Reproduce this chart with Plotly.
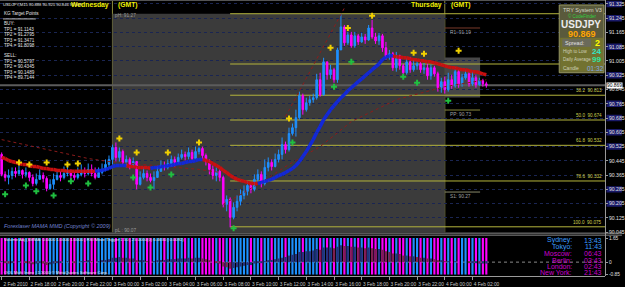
import plotly.graph_objects as go

# ---------------- data ----------------
first_open = 90.481
closes = [
    90.369, 90.352, 90.363, 90.386, 90.374, 90.391, 90.369, 90.380, 90.352, 90.318,
    90.341, 90.363, 90.346, 90.290, 90.313, 90.341, 90.363, 90.352, 90.374, 90.386,
    90.363, 90.352, 90.369, 90.386, 90.374, 90.397, 90.374, 90.352, 90.380, 90.397,
    90.425, 90.453, 90.520, 90.464, 90.497, 90.436, 90.453, 90.425, 90.441, 90.313,
    90.352, 90.374, 90.352, 90.335, 90.352, 90.386, 90.419, 90.408, 90.430, 90.453,
    90.436, 90.464, 90.481, 90.469, 90.492, 90.458, 90.497, 90.514, 90.475, 90.441,
    90.397, 90.363, 90.386, 90.352, 90.201, 90.229, 90.128, 90.184, 90.218, 90.251,
    90.274, 90.307, 90.285, 90.341, 90.369, 90.318, 90.408, 90.436, 90.413, 90.453,
    90.481, 90.536, 90.508, 90.598, 90.631, 90.687, 90.810, 90.732, 90.771, 90.788,
    90.799, 90.900, 90.816, 91.000, 90.928, 90.956, 90.900, 91.067, 91.196, 91.107,
    91.151, 91.090, 91.146, 91.112, 91.140, 91.123, 91.190, 91.140, 91.118, 91.146,
    91.079, 91.028, 91.045, 90.967, 91.034, 90.978, 90.939, 91.000, 90.956, 90.978,
    90.989, 90.956, 90.967, 90.922, 90.967, 90.933, 90.855, 90.889, 90.844, 90.900,
    90.866, 90.945, 90.877, 90.911, 90.933, 90.877, 90.911, 90.872, 90.894, 90.877,
    90.869]
highs = [
    90.492, 90.386, 90.397, 90.408, 90.408, 90.419, 90.397, 90.408, 90.386, 90.369,
    90.374, 90.397, 90.380, 90.358, 90.341, 90.374, 90.397, 90.386, 90.413, 90.419,
    90.397, 90.386, 90.408, 90.425, 90.408, 90.430, 90.425, 90.408, 90.408, 90.430,
    90.453, 90.475, 90.536, 90.548, 90.520, 90.508, 90.475, 90.464, 90.464, 90.436,
    90.386, 90.408, 90.391, 90.374, 90.386, 90.419, 90.447, 90.441, 90.453, 90.475,
    90.469, 90.486, 90.508, 90.497, 90.520, 90.508, 90.525, 90.525, 90.525, 90.486,
    90.453, 90.419, 90.408, 90.397, 90.363, 90.251, 90.240, 90.212, 90.251, 90.285,
    90.307, 90.330, 90.324, 90.369, 90.397, 90.386, 90.453, 90.464, 90.453, 90.486,
    90.508, 90.576, 90.553, 90.631, 90.654, 90.732, 90.833, 90.822, 90.799, 90.810,
    90.822, 90.933, 90.939, 91.023, 91.000, 90.984, 90.967, 91.079, 91.269, 91.207,
    91.168, 91.168, 91.168, 91.157, 91.163, 91.157, 91.207, 91.235, 91.163, 91.163,
    91.157, 91.112, 91.067, 91.056, 91.056, 91.040, 90.989, 91.023, 91.028, 91.012,
    91.012, 91.000, 90.995, 90.989, 90.984, 90.978, 90.945, 90.911, 90.917, 90.939,
    90.928, 90.972, 90.956, 90.933, 90.956, 90.956, 90.945, 90.928, 90.911, 90.905,
    90.889]
lows = [
    90.358, 90.330, 90.313, 90.341, 90.352, 90.363, 90.346, 90.352, 90.330, 90.302,
    90.307, 90.341, 90.324, 90.274, 90.285, 90.285, 90.335, 90.330, 90.341, 90.358,
    90.341, 90.335, 90.341, 90.358, 90.352, 90.363, 90.358, 90.341, 90.352, 90.369,
    90.386, 90.408, 90.425, 90.441, 90.441, 90.419, 90.408, 90.397, 90.408, 90.285,
    90.307, 90.341, 90.330, 90.324, 90.285, 90.352, 90.386, 90.391, 90.397, 90.413,
    90.413, 90.425, 90.453, 90.447, 90.453, 90.441, 90.453, 90.481, 90.453, 90.419,
    90.369, 90.341, 90.330, 90.330, 90.184, 90.162, 90.072, 90.117, 90.162, 90.195,
    90.229, 90.251, 90.263, 90.274, 90.330, 90.296, 90.307, 90.386, 90.391, 90.408,
    90.436, 90.453, 90.486, 90.497, 90.587, 90.581, 90.676, 90.704, 90.721, 90.754,
    90.771, 90.788, 90.805, 90.810, 90.900, 90.905, 90.883, 90.883, 91.067, 91.090,
    91.095, 91.079, 91.079, 91.095, 91.107, 91.101, 91.118, 91.129, 91.101, 91.095,
    91.056, 91.012, 91.012, 90.950, 90.945, 90.956, 90.922, 90.928, 90.939, 90.945,
    90.956, 90.939, 90.933, 90.900, 90.900, 90.917, 90.833, 90.827, 90.822, 90.833,
    90.849, 90.855, 90.855, 90.861, 90.900, 90.861, 90.866, 90.855, 90.866, 90.861,
    90.855]
ribbon = [
    90.464, 90.458, 90.447, 90.441, 90.436, 90.430, 90.425, 90.425, 90.419, 90.413,
    90.413, 90.408, 90.402, 90.402, 90.397, 90.397, 90.391, 90.391, 90.391, 90.386,
    90.386, 90.386, 90.386, 90.386, 90.386, 90.386, 90.386, 90.386, 90.391, 90.391,
    90.397, 90.402, 90.413, 90.419, 90.419, 90.419, 90.419, 90.413, 90.413, 90.408,
    90.408, 90.408, 90.408, 90.402, 90.408, 90.408, 90.413, 90.413, 90.419, 90.419,
    90.425, 90.430, 90.430, 90.436, 90.441, 90.441, 90.447, 90.453, 90.453, 90.447,
    90.441, 90.430, 90.419, 90.408, 90.391, 90.380, 90.363, 90.352, 90.341, 90.335,
    90.330, 90.324, 90.318, 90.318, 90.318, 90.324, 90.330, 90.335, 90.341, 90.352,
    90.363, 90.369, 90.380, 90.391, 90.402, 90.419, 90.441, 90.469, 90.497, 90.531,
    90.564, 90.604, 90.637, 90.676, 90.704, 90.732, 90.754, 90.777, 90.799, 90.816,
    90.838, 90.855, 90.872, 90.889, 90.905, 90.922, 90.939, 90.956, 90.972, 90.989,
    91.012, 91.028, 91.034, 91.034, 91.028, 91.028, 91.023, 91.023, 91.017, 91.012,
    91.012, 91.006, 91.006, 91.000, 91.000, 90.995, 90.989, 90.984, 90.978, 90.972,
    90.967, 90.967, 90.961, 90.956, 90.956, 90.950, 90.945, 90.945, 90.939, 90.933,
    90.928]
osc = [
    0.05, -0.05, -0.1, -0.05, 0.0, 0.05, 0.0, -0.05, -0.1, -0.15,
    -0.1, -0.05, -0.1, -0.2, -0.15, -0.1, -0.05, -0.05, 0.0, 0.05,
    0.0, -0.05, 0.0, 0.05, 0.05, 0.1, 0.05, 0.0, 0.05, 0.1,
    0.15, 0.2, 0.3, 0.3, 0.35, 0.3, 0.3, 0.25, 0.25, 0.1,
    0.1, 0.1, 0.05, 0.0, 0.05, 0.1, 0.15, 0.15, 0.2, 0.2,
    0.2, 0.25, 0.25, 0.25, 0.3, 0.25, 0.3, 0.3, 0.25, 0.2,
    0.1, 0.0, -0.05, -0.1, -0.3, -0.35, -0.45, -0.4, -0.35, -0.3,
    -0.25, -0.2, -0.2, -0.1, -0.05, -0.05, 0.05, 0.1, 0.15, 0.2,
    0.25, 0.3, 0.35, 0.45, 0.5, 0.55, 0.7, 0.7, 0.75, 0.75,
    0.8, 0.9, 0.85, 1.0, 1.0, 1.0, 0.95, 1.05, 1.15, 1.1,
    1.1, 1.05, 1.05, 1.0, 1.0, 0.95, 1.0, 0.95, 0.9, 0.9,
    0.85, 0.75, 0.7, 0.6, 0.6, 0.55, 0.45, 0.45, 0.4, 0.4,
    0.35, 0.3, 0.3, 0.25, 0.25, 0.2, 0.1, 0.1, 0.05, 0.05,
    0.0, 0.05, 0.0, 0.0, 0.0, -0.05, -0.05, -0.05, -0.1, -0.1,
    -0.1]
ind_top, ind_bot = 1.65, -0.85

ma_left_idx = [0, 8, 17, 25, 31, 40, 48, 57, 63]
ma_left_val = [90.564, 90.531, 90.492, 90.458, 90.441, 90.425, 90.413, 90.397, 90.380]
ma_right_idx = [64, 74, 83, 92, 101, 114, 128, 140]
ma_right_val = [90.201, 90.313, 90.425, 90.525, 90.665, 90.788, 90.861, 90.900]
steep_idx = [82, 99]
steep_val = [90.693, 91.302]

sell_idx = [5, 8, 13, 19, 22, 34, 39, 48, 57, 83, 95, 100, 107, 119, 122, 132]
sell_val = [90.436, 90.425, 90.436, 90.425, 90.430, 90.570, 90.492, 90.492, 90.548,
            90.682, 91.079, 91.190, 91.258, 91.051, 91.045, 91.062]
buy_idx = [1, 7, 10, 15, 20, 25, 38, 43, 49, 67, 84, 96, 101, 116, 120, 129]
buy_val = [90.257, 90.307, 90.274, 90.251, 90.330, 90.318, 90.352, 90.296, 90.369,
           90.067, 90.548, 90.861, 91.000, 90.916, 90.883, 90.782]

fib_pct = [0.0, 23.6, 38.2, 50.0, 61.8, 78.6, 100.0]
fib_price = [91.270, 90.988, 90.813, 90.674, 90.532, 90.332, 90.075]
fib_start = 66
pivot_names = ["R1", "PP", "S1"]
pivot_vals = [91.19, 90.73, 90.27]
prev_high, prev_low = 91.27, 90.07
day_start = [32, 128]
day_names = ["Wednesday", "Thursday"]
today_box = (128, 138.2, 90.800, 91.025)
cur_price = 90.869

price_ticks = [91.325, 91.245, 91.165, 91.085, 91.005, 90.925, 90.845, 90.765, 90.685,
               90.605, 90.525, 90.445, 90.365, 90.285, 90.205, 90.125, 90.045]
navy_ticks = [91.325, 91.245, 91.085, 90.925, 90.765, 90.685, 90.605, 90.525, 90.285, 90.205]
time_idx = [0, 8, 16, 24, 32, 40, 48, 56, 64, 72, 80, 88, 96, 104, 112, 120, 128, 136]
time_lbl = ["2 Feb 2010", "2 Feb 18:00", "2 Feb 20:00", "2 Feb 22:00", "3 Feb 00:00",
            "3 Feb 02:00", "3 Feb 04:00", "3 Feb 06:00", "3 Feb 08:00", "3 Feb 10:00",
            "3 Feb 12:00", "3 Feb 14:00", "3 Feb 16:00", "3 Feb 18:00", "3 Feb 20:00",
            "3 Feb 22:00", "4 Feb 00:00", "4 Feb 02:00"]

kg_lines = ["KG Target Points", "BUY:", "TP1 = 91.1143", "TP2 = 91.2795", "TP3 = 91.3471",
            "TP4 = 91.8098", "SELL:", "TP1 = 90.5797", "TP2 = 90.4345", "TP3 = 90.1489",
            "TP4 = 89.7144"]
cities = ["Sydney:", "Tokyo:", "Moscow:", "Berlin:", "London:", "New York:"]
city_times = ["13:43", "11:43", "06:43", "03:43", "02:43", "21:43"]

# ---------------- geometry helpers ----------------
W, H = 625, 287
MR, MB = 17, 10
PW, PH = W - MR, H - MB
BAR_PX, X0_PX = 3.479, 1.67
x_lo = -X0_PX / BAR_PX
x_hi = (PW - X0_PX) / BAR_PX


def X(p):
    return p / PW


def Y(p):
    return 1 - p / PH


BLUE, MAG = "#1e90ff", "#ff00ff"
FONT = "Liberation Sans"

n = len(closes)
idx = list(range(n))
opens = [first_open] + closes[:-1]
hi = [max(h, o, c) for h, o, c in zip(highs, opens, closes)]
lo = [min(l, o, c) for l, o, c in zip(lows, opens, closes)]

fig = go.Figure()

# dotted averages
for xs, ys in [(ma_left_idx, ma_left_val), (ma_right_idx, ma_right_val), (steep_idx, steep_val)]:
    fig.add_trace(go.Scatter(x=xs, y=ys, mode="lines", line=dict(color="#8b1c1c", width=1, dash="dot"),
                             hoverinfo="skip", xaxis="x", yaxis="y"))

fig.add_trace(go.Candlestick(
    x=idx, open=opens, high=hi, low=lo, close=closes,
    increasing=dict(line=dict(color=BLUE, width=1), fillcolor=BLUE),
    decreasing=dict(line=dict(color=MAG, width=1), fillcolor=MAG),
    whiskerwidth=0, hoverinfo="skip", xaxis="x", yaxis="y"))

# thick trend ribbon
trend = []
cur = -1
for i in range(n):
    if i > 0:
        if ribbon[i] > ribbon[i - 1]:
            cur = 1
        elif ribbon[i] < ribbon[i - 1]:
            cur = -1
    trend.append(cur)
for col, sgn in [("#c81010", -1), ("#1228d8", 1)]:
    xs, ys = [], []
    for i in range(1, n):
        if trend[i] == sgn:
            xs += [i - 1, i, None]
            ys += [ribbon[i - 1], ribbon[i], None]
    fig.add_trace(go.Scatter(x=xs, y=ys, mode="lines", line=dict(color=col, width=3.5),
                             hoverinfo="skip", xaxis="x", yaxis="y"))

fig.add_trace(go.Scatter(x=sell_idx, y=sell_val, mode="markers",
                         marker=dict(symbol="cross", size=5, color="#f0d000", line_width=0),
                         hoverinfo="skip", xaxis="x", yaxis="y"))
fig.add_trace(go.Scatter(x=buy_idx, y=buy_val, mode="markers",
                         marker=dict(symbol="cross", size=5, color="#20c040", line_width=0),
                         hoverinfo="skip", xaxis="x", yaxis="y"))

# indicator window
bar_cols = [BLUE if c >= o else MAG for o, c in zip(opens, closes)]
fig.add_trace(go.Bar(x=idx, y=[ind_top - ind_bot] * n, base=ind_bot, width=0.62,
                     marker=dict(color=bar_cols, line_width=0), hoverinfo="skip",
                     xaxis="x2", yaxis="y2"))
osc_cols = ["#26307e" if (i == 0 or osc[i] >= osc[i - 1]) else "#7e2050" for i in range(n)]
fig.add_trace(go.Bar(x=idx, y=osc, width=0.62, marker=dict(color=osc_cols, line_width=0),
                     hoverinfo="skip", xaxis="x2", yaxis="y2"))

# ---------------- shapes ----------------
shapes = []
shapes.append(dict(type="rect", xref="x", yref="y", x0=day_start[0], x1=day_start[1],
                   y0=90.0, y1=prev_high, fillcolor="#3b3b3b", line_width=0, layer="below"))
shapes.append(dict(type="rect", xref="x", yref="y", x0=today_box[0], x1=today_box[1],
                   y0=today_box[2], y1=today_box[3], fillcolor="#474747", line_width=0, layer="below"))
for d in day_start:
    shapes.append(dict(type="line", xref="x", yref="paper", x0=d, x1=d, y0=Y(233), y1=1,
                       line=dict(color="#8c8c3c", width=1), layer="between"))
for p in fib_price:
    shapes.append(dict(type="line", xref="x", yref="y", x0=fib_start, x1=x_hi, y0=p, y1=p,
                       line=dict(color="#b4b43c", width=1), layer="between"))
shapes.append(dict(type="line", xref="x", yref="y", x0=x_lo, x1=x_hi, y0=cur_price, y1=cur_price,
                   line=dict(color="#5c5c5c", width=2), layer="between"))
for nm, v, c in zip(pivot_names, pivot_vals, ["#7a3a2a", "#8a8a3c", "#8a8a6a"]):
    shapes.append(dict(type="line", xref="x", yref="y", x0=day_start[1], x1=today_box[1], y0=v, y1=v,
                       line=dict(color=c, width=1), layer="between"))
shapes.append(dict(type="line", xref="x2", yref="y2", x0=x_lo, x1=x_hi, y0=0, y1=0,
                   line=dict(color="#8a8a8a", width=1, dash="dot"), layer="below"))
for p in [234, 236]:
    shapes.append(dict(type="line", xref="paper", yref="paper", x0=0, x1=X(W), y0=Y(p), y1=Y(p),
                       line=dict(color="#8a8a8a", width=1)))
shapes.append(dict(type="line", xref="paper", yref="paper", x0=X(608.5), x1=X(608.5), y0=0, y1=1,
                   line=dict(color="#9a9a9a", width=1)))
shapes.append(dict(type="line", xref="paper", yref="paper", x0=0, x1=X(608), y0=Y(0.5), y1=Y(0.5),
                   line=dict(color="#555555", width=1)))
for v in navy_ticks:
    shapes.append(dict(type="rect", xref="paper", yref="y", x0=X(609.5), x1=X(625), y0=v - 0.018,
                       y1=v + 0.018, fillcolor="#1a1a6a", line_width=0, layer="below"))
# info panel
shapes.append(dict(type="rect", xref="paper", yref="paper", x0=X(562), x1=X(607), y0=Y(73), y1=Y(5),
                   fillcolor="#5a5a3c", line=dict(color="#9a9a62", width=1)))
shapes.append(dict(type="rect", xref="paper", yref="paper", x0=X(563), x1=X(606), y0=Y(72), y1=Y(38),
                   fillcolor="#727230", line_width=0))
shapes.append(dict(type="rect", xref="paper", yref="paper", x0=X(565), x1=X(594), y0=Y(47), y1=Y(39),
                   fillcolor="#6a6a5a", line_width=0))
shapes.append(dict(type="line", xref="paper", yref="paper", x0=X(3), x1=X(36), y0=Y(19), y1=Y(19),
                   line=dict(color="#c0c0c0", width=1)))

# ---------------- annotations ----------------
ann = []


def txt(xp, yp, s, size, color, xanchor="left", bold=False, italic=False, bg=None):
    t = s
    if bold:
        t = "<b>" + t + "</b>"
    if italic:
        t = "<i>" + t + "</i>"
    d = dict(xref="paper", yref="paper", x=X(xp), y=Y(yp), text=t, showarrow=False,
             xanchor=xanchor, yanchor="middle", font=dict(size=size, color=color, family=FONT),
             borderpad=0)
    if bg:
        d["bgcolor"] = bg
    ann.append(d)


txt(2, 5, "USDJPY,M15 90.888 90.925 90.846 90.869", 4.1, "#e6e6e6")
for d, name in zip(day_start, day_names):
    xp = X0_PX + d * BAR_PX
    txt(xp - 2, 5.5, name, 6.8, "#f0f000", xanchor="right", bold=True)
    txt(xp + 5, 5.5, "(GMT)", 6.8, "#f0f000", bold=True)

kg_y = [14, 24, 29.5, 35, 40.5, 46, 56, 61.5, 67, 72.5, 78]
for s, yp in zip(kg_lines, kg_y):
    txt(3, yp, s, 4.6, "#e0e0e0")

xs_day = X0_PX + day_start[0] * BAR_PX
txt(xs_day + 2, 16, "pH: %.2f" % prev_high, 4.8, "#9a9a9a")
txt(xs_day + 2, 231, "pL : %.2f" % prev_low, 4.8, "#9a9a9a")
for nm, v in zip(pivot_names, pivot_vals):
    ann.append(dict(xref="x", yref="y", x=day_start[1] + 1, y=v, text="%s: %.2f" % (nm, v),
                    showarrow=False, xanchor="left", yanchor="top",
                    font=dict(size=4.8, color="#a0a0a0", family=FONT)))
for pct, p in zip(fib_pct, fib_price):
    if pct in (0.0, 23.6):
        continue
    ann.append(dict(xref="paper", yref="y", x=X(607), y=p, text="%.1f  %.3f" % (pct, p),
                    showarrow=False, xanchor="right", yanchor="bottom",
                    font=dict(size=4.6, color="#d0d050", family=FONT)))

txt(3, 227, "Forexlaser MAMA MMD (Copyright © 2009)", 5.5, "#7080d0", italic=True)
txt(3, 240.5, "Volume Adj (SMMA: 0.0000 1.0000 1.0000 | RSI Move Trigger 1.50 | 25.0000(0) 0.4630 | 0.0092)",
    4.2, "#e8e8e8")
txt(3, 273, "OOL Multi Index | 1.3000 © MetaQuotes Software Corp.", 4.2, "#e8e8e8")

city_y = [241, 247.5, 254.5, 261, 267, 273.5]
city_col = ["#3a9cff", "#3a9cff", "#cc00cc", "#cc00cc", "#cc00cc", "#cc00cc"]
for c, t, yp, col in zip(cities, city_times, city_y, city_col):
    txt(576, yp, c, 7, col, xanchor="right")
    txt(606, yp, t, 7, col, xanchor="right")

# info panel texts
txt(585, 10.5, "TRY System V3", 5.5, "#d8d8c8", xanchor="center")
txt(585, 16, "© CodeFinder", 4.5, "#30d040", xanchor="center")
txt(584, 25, "USDJPY", 10, "#ececec", xanchor="center", bold=True)
txt(585, 34, "%.3f" % cur_price, 9, "#ffa500", xanchor="center", bold=True)
txt(567, 43, "Spread:", 5.5, "#e0e0e0")
txt(600, 43, "2", 9, "#ffff00", xanchor="center", bold=True)
txt(565, 51.5, "High to Low", 4.5, "#d0d0b8")
txt(599, 51.5, "24", 8, "#30e8c8", xanchor="center", bold=True)
txt(565, 60, "Daily Average", 4.5, "#d0d0b8")
txt(599, 60, "99", 8, "#30e8a0", xanchor="center", bold=True)
txt(565, 68.5, "Candle", 5, "#d0d0b8")
txt(598, 68.5, "01:32", 6.5, "#80a8e8", xanchor="center")

ann.append(dict(xref="paper", yref="y", x=X(609.5), y=cur_price, text="%.3f" % cur_price,
                showarrow=False, xanchor="left", yanchor="middle", bgcolor="#ffffff",
                font=dict(size=4.9, color="#000000", family=FONT), borderpad=0))

fig.update_layout(
    width=W, height=H, margin=dict(l=0, r=MR, t=0, b=MB),
    paper_bgcolor="#000000", plot_bgcolor="#000000", showlegend=False,
    barmode="overlay", boxgap=0.35,
    shapes=shapes, annotations=ann,
    xaxis=dict(domain=[0, 1], range=[x_lo, x_hi], anchor="y", showticklabels=False, showgrid=False,
               zeroline=False, rangeslider=dict(visible=False), ticks=""),
    yaxis=dict(domain=[Y(233), 1], range=[90.045, 91.347], side="right", tickvals=price_ticks,
               ticktext=["%.3f" % v for v in price_ticks],
               tickfont=dict(size=5.1, color="#e0e0e0", family=FONT), ticks="outside", ticklen=2,
               tickcolor="#9a9a9a", showgrid=True, gridcolor="#1a2552", griddash="dot", gridwidth=1,
               zeroline=False, showline=False),
    xaxis2=dict(domain=[0, 1], range=[x_lo, x_hi], anchor="y2", matches="x", tickvals=time_idx,
                ticktext=time_lbl, tickfont=dict(size=4.8, color="#c8c8c8", family=FONT),
                tickangle=0, ticks="outside", ticklen=3, tickcolor="#9a9a9a", ticklabelshift=14,
                showgrid=False, zeroline=False, showline=True, linecolor="#9a9a9a"),
    yaxis2=dict(domain=[0, Y(236)], range=[-0.95, 1.85], side="right", tickvals=[1.65, 0, -0.85],
                ticktext=["1.65", "0", "-0.85"], tickfont=dict(size=4.8, color="#e0e0e0", family=FONT),
                ticks="outside", ticklen=2, tickcolor="#9a9a9a", showgrid=False, zeroline=False),
)

fig.write_html("out.html")
